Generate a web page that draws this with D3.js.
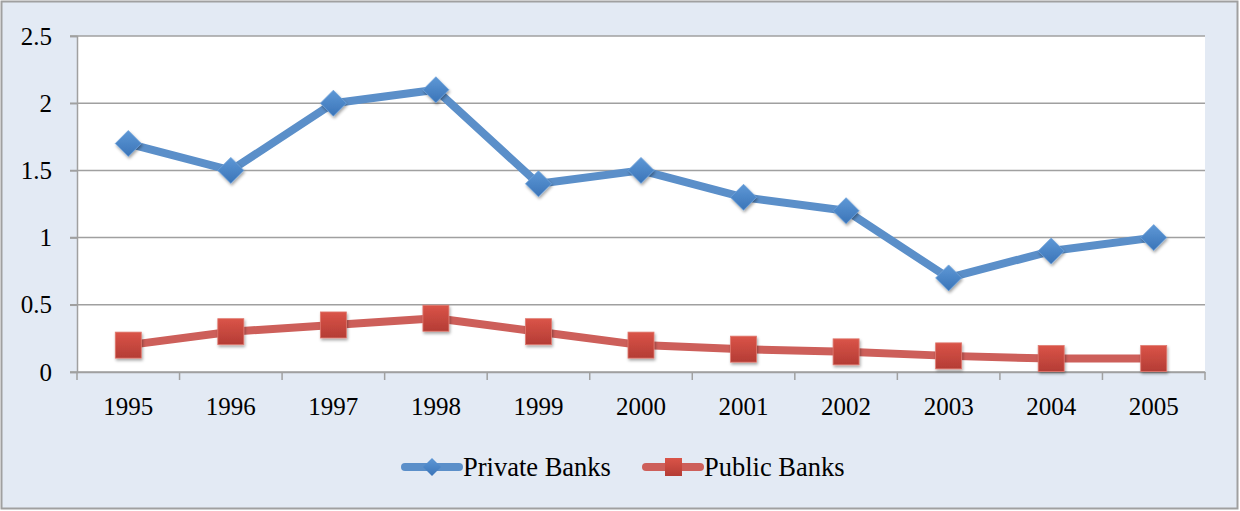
<!DOCTYPE html>
<html><head><meta charset="utf-8">
<script src="https://cdn.jsdelivr.net/npm/d3@7"></script>
<style>body{margin:0;background:#fff}svg{display:block}svg text{font-family:"Liberation Serif","Times New Roman",serif !important;fill:#000}</style>
</head><body>
<svg id="c" width="1240" height="511"></svg>
<script>
const years = ["1995","1996","1997","1998","1999","2000","2001","2002","2003","2004","2005"];
const privateBanks = [1.7,1.5,2.0,2.1,1.4,1.5,1.3,1.2,0.7,0.9,1.0];
const publicBanks = [0.2,0.3,0.35,0.4,0.3,0.2,0.17,0.15,0.12,0.1,0.1];
const yTicks = [0,0.5,1,1.5,2,2.5];
const yTickLabels = ["0","0.5","1","1.5","2","2.5"];
const seriesNames = ["Private Banks","Public Banks"];

(function(){
const svg = d3.select("#c");
const W=1240,H=511;
svg.append("rect").attr("x",1.5).attr("y",1.5).attr("width",W-4).attr("height",H-4)
  .attr("fill","#E3EAF4").attr("stroke","#A0A0A0").attr("stroke-width",2);

const pL=77,pR=1205,pT=36,pB=372;
const x = d3.scaleBand().domain(years).range([pL,pR]);
const y = d3.scaleLinear().domain([0,2.5]).range([pB,pT]);

const defs=svg.append("defs");
const f=defs.append("filter").attr("id","sh").attr("x","-50%").attr("y","-50%").attr("width","200%").attr("height","200%");
f.append("feDropShadow").attr("dx",1).attr("dy",2).attr("stdDeviation",1.5).attr("flood-color","#000").attr("flood-opacity",0.35);
const gb=defs.append("linearGradient").attr("id","gb").attr("x1",0).attr("y1",0).attr("x2",0).attr("y2",1);
gb.append("stop").attr("offset",0).attr("stop-color","#5E98D6");
gb.append("stop").attr("offset",1).attr("stop-color","#3A74B8");
const gr=defs.append("linearGradient").attr("id","gr").attr("x1",0).attr("y1",0).attr("x2",0).attr("y2",1);
gr.append("stop").attr("offset",0).attr("stop-color","#DA5448");
gr.append("stop").attr("offset",1).attr("stop-color","#B43C35");

svg.append("rect").attr("x",pL).attr("y",pT).attr("width",pR-pL).attr("height",pB-pT).attr("fill","#fff");

svg.append("g").selectAll("line").data(yTicks).join("line")
  .attr("x1",pL-7).attr("x2",pR).attr("y1",d=>y(d)).attr("y2",d=>y(d))
  .attr("stroke","#A0A0A0").attr("stroke-width",1.5);

const ya = svg.append("g").attr("transform",`translate(${pL},0)`)
  .call(d3.axisLeft(y).tickValues(yTicks).tickFormat((d,i)=>yTickLabels[i]).tickSize(7).tickPadding(18));
ya.select(".domain").attr("stroke","#A0A0A0").attr("stroke-width",1.5);
ya.selectAll(".tick line").attr("stroke","#A0A0A0").attr("stroke-width",1.5);
ya.selectAll("text").style("font-size","25px").attr("dy","0.32em");

const xa = svg.append("g").attr("transform",`translate(0,${pB})`)
  .call(d3.axisBottom(x).tickSize(0).tickPadding(25));
xa.select(".domain").attr("stroke","#A0A0A0").attr("stroke-width",1.5);
xa.selectAll("text").style("font-size","25px");
const bounds = years.map(d=>x(d)).concat([pR]);
xa.append("g").selectAll("line").data(bounds).join("line")
  .attr("x1",d=>d).attr("x2",d=>d).attr("y1",0).attr("y2",8)
  .attr("stroke","#A0A0A0").attr("stroke-width",1.5);

const cx = d=>x(d)+x.bandwidth()/2;
const line = d3.line().x((d,i)=>cx(years[i])).y(d=>y(d));

svg.append("path").datum(privateBanks).attr("d",line).attr("fill","none")
  .attr("stroke","#5B8FC9").attr("stroke-width",8).attr("stroke-linejoin","round").attr("stroke-linecap","round");
svg.append("path").datum(publicBanks).attr("d",line).attr("fill","none")
  .attr("stroke","#CD5F5A").attr("stroke-width",8).attr("stroke-linejoin","round").attr("stroke-linecap","round");

const dia = s=>`M0,${-s}L${s},0L0,${s}L${-s},0Z`;
svg.append("g").selectAll("path").data(privateBanks).join("path")
  .attr("d",dia(13)).attr("transform",(d,i)=>`translate(${cx(years[i])},${y(d)})`)
  .attr("fill","url(#gb)").attr("stroke","#6FA2DA").attr("stroke-width",0.8).attr("filter","url(#sh)");
svg.append("g").selectAll("rect").data(publicBanks).join("rect")
  .attr("x",(d,i)=>cx(years[i])-13).attr("y",d=>y(d)-13).attr("width",26).attr("height",26)
  .attr("fill","url(#gr)").attr("stroke","#E07A70").attr("stroke-width",0.8).attr("filter","url(#sh)");

const leg = svg.append("g");
const items=[{x:402,c:"#5B8FC9",m:"d"},{x:643,c:"#CD5F5A",m:"s"}];
items.forEach((it,i)=>{
  const g=leg.append("g").attr("transform",`translate(${it.x},467)`);
  g.append("line").attr("x1",3).attr("x2",57).attr("y1",0).attr("y2",0).attr("stroke",it.c).attr("stroke-width",8).attr("stroke-linecap","round");
  if(it.m==="d") g.append("path").attr("d",dia(9)).attr("transform","translate(30,0)").attr("fill","url(#gb)");
  else g.append("rect").attr("x",22).attr("y",-9).attr("width",17).attr("height",18).attr("fill","url(#gr)");
  g.append("text").attr("x",61).attr("y",0).attr("dy","0.33em").style("font-size","26.5px").text(seriesNames[i]);
});
})();
</script>
</body></html>
